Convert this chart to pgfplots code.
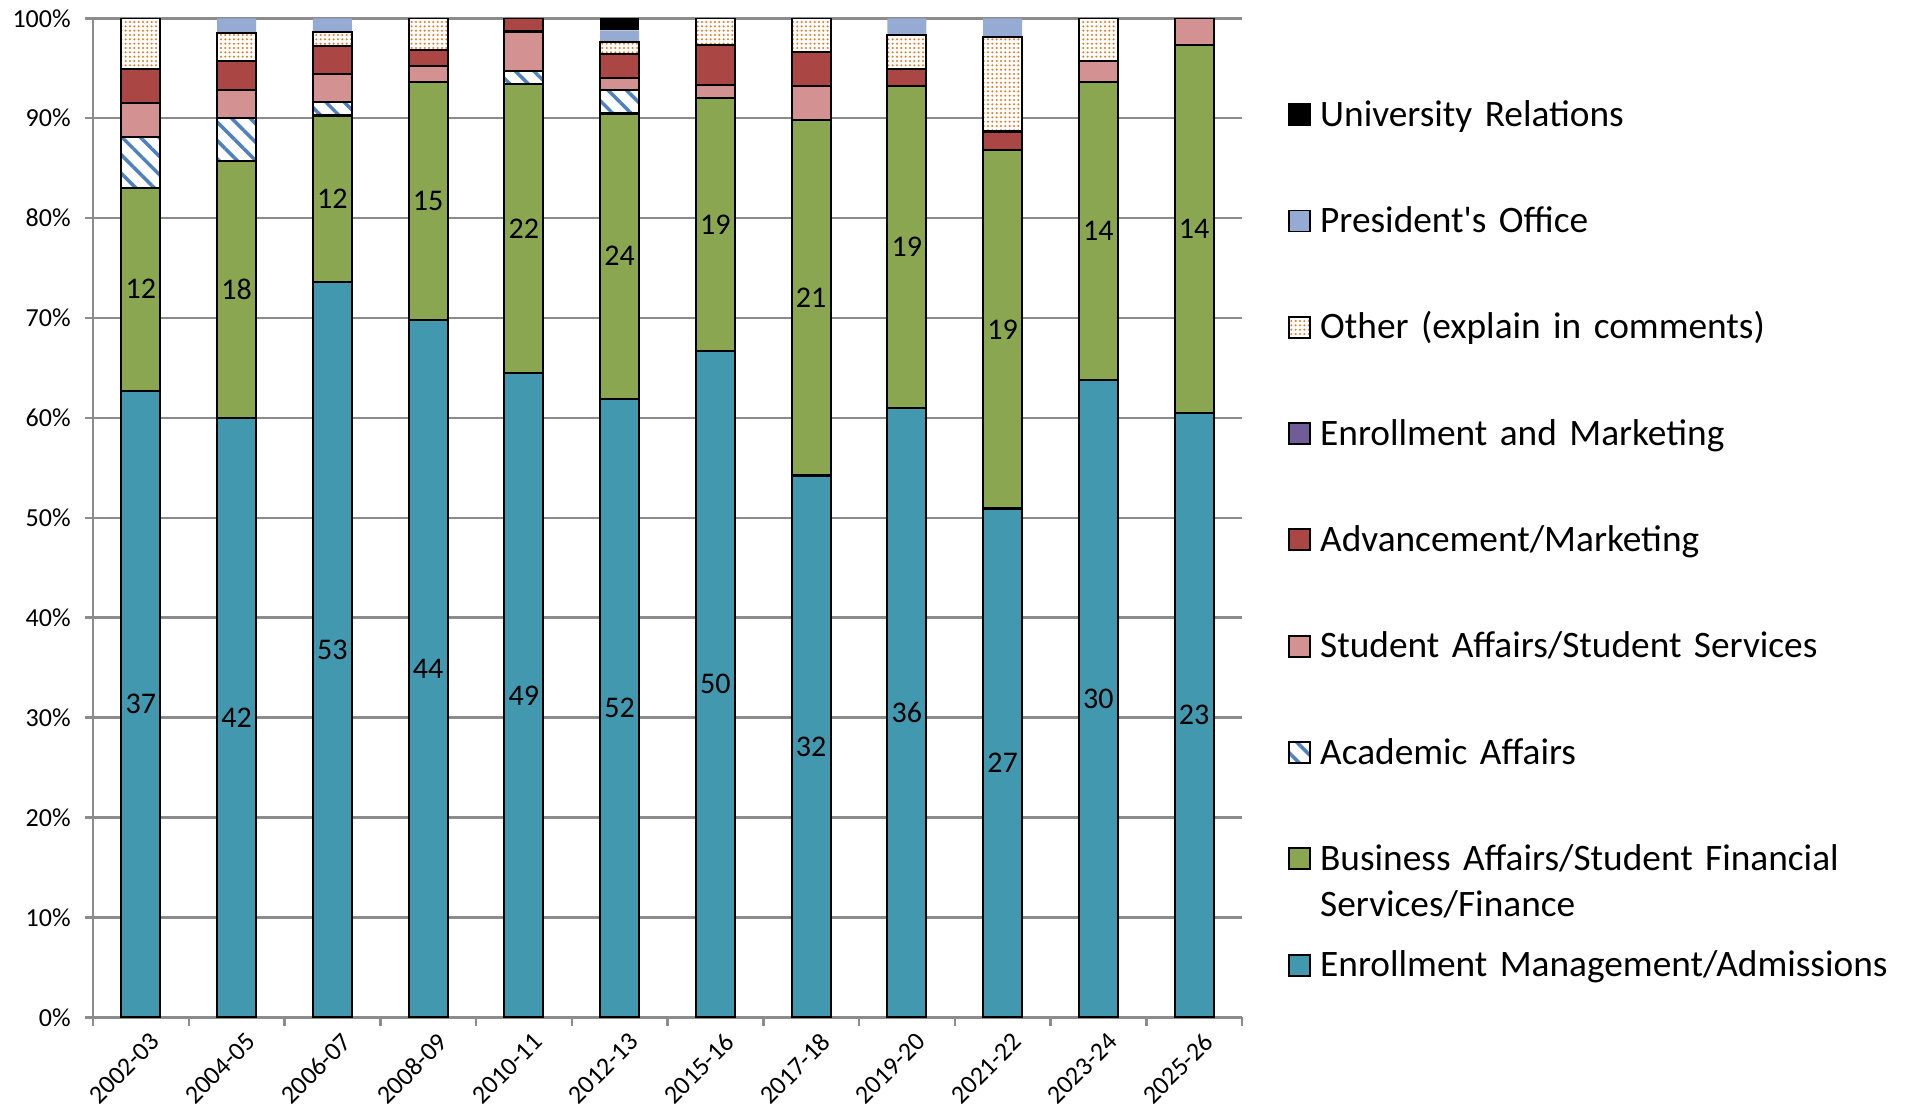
\documentclass[border=0pt]{standalone}
\usepackage{fontspec}
\setmainfont{Carlito}
\usepackage{pgfplots}
\pgfplotsset{compat=1.18}
\usepackage{pgfplotstable}
\usetikzlibrary{patterns.meta}

\definecolor{emteal}{HTML}{4198AF}
\definecolor{bagreen}{HTML}{8AA650}
\definecolor{aablue}{HTML}{4F81BD}
\definecolor{sapink}{HTML}{D39191}
\definecolor{advred}{HTML}{AA4644}
\definecolor{empurple}{HTML}{705C98}
\definecolor{othorange}{HTML}{E8771E}
\definecolor{poblue}{HTML}{95ABD4}
\definecolor{gridgray}{HTML}{8C8C8C}

% Respondents per office for each survey year (tot = all respondents that year)
\pgfplotstableread{
idx year    EM BA AA SA ADV EMK OTH PO UR tot
0   2002-03 37 12 3  2  2   0   3   0  0  59
1   2004-05 42 18 3  2  2   0   2   1  0  70
2   2006-07 53 12 1  2  2   0   1   1  0  72
3   2008-09 44 15 0  1  1   0   2   0  0  63
4   2010-11 49 22 1  3  1   0   0   0  0  76
5   2012-13 52 24 2  1  2   0   1   1  1  84
6   2015-16 50 19 0  1  3   0   2   0  0  75
7   2017-18 32 21 0  2  2   0   2   0  0  59
8   2019-20 36 19 0  0  1   0   2   1  0  59
9   2021-22 27 19 0  0  1   0   5   1  0  53
10  2023-24 30 14 0  1  0   0   2   0  0  47
11  2025-26 23 14 0  1  0   0   0   0  0  38
}\counts

\pgfplotsset{
  /pgf/number format/assume math mode=true,
  sq/.style={legend image code/.code={\draw[##1] (0pt,0.3pt) rectangle (6.3pt,6.6pt);}},
  segment/.style={draw=black, line width=0.65pt, sq},
}

\begin{document}
\begin{tikzpicture}
\begin{axis}[
  name=ax,
  scale only axis, width=344.7pt, height=299.7pt,
  ybar stacked, bar width=11.7pt,
  xmin=-0.5, xmax=11.5, ymin=0, ymax=100,
  axis lines*=left,
  axis line style={gridgray, line width=0.75pt},
  ymajorgrids, grid style={gridgray, line width=0.75pt},
  ytick={0,10,...,100},
  yticklabels={0\%,10\%,20\%,30\%,40\%,50\%,60\%,70\%,80\%,90\%,100\%},
  xtick={-0.5,0.5,...,11.5}, x tick label as interval,
  xticklabels={2002-03,2004-05,2006-07,2008-09,2010-11,2012-13,2015-16,2017-18,2019-20,2021-22,2023-24,2025-26},
  tick align=outside, major tick length=2.5pt,
  tick style={gridgray, line width=0.75pt},
  tick label style={font=\fontsize{7.8}{9}\selectfont},
  xticklabel style={inner sep=0pt, anchor=north east, xshift=2.5pt, yshift=-1.5pt, rotate=45},
  yticklabel style={inner sep=0pt, anchor=east, xshift=-4pt},
  reverse legend,
  legend style={
    at={(rel axis cs:1,1)}, anchor=north west, xshift=13.8pt, yshift=-24.3pt,
    draw=none, fill=none, inner sep=0pt, outer sep=0pt,
    row sep=20.9pt, column sep=2.7pt,
    font=\fontsize{11.2}{13.7}\selectfont,
    nodes={inner sep=0pt, outer sep=0pt, text height=8pt, text depth=3pt,
           text width=175pt, align=left},
    cells={anchor=base west},
  },
]
\addplot[segment, fill=emteal] table[x=idx, y expr=\thisrow{EM}/\thisrow{tot}*100]{\counts};
\addlegendentry{Enrollment Management/Admissions}
\addplot[segment, fill=bagreen] table[x=idx, y expr=\thisrow{BA}/\thisrow{tot}*100]{\counts};
\addlegendentry{Business Affairs/Student Financial\\Services/Finance}
\addplot[segment, fill=white,
  postaction={pattern={Lines[angle=-45, distance=3.9pt, line width=1.05pt]}, pattern color=aablue}]
  table[x=idx, y expr=\thisrow{AA}/\thisrow{tot}*100]{\counts};
\addlegendentry{Academic Affairs}
\addplot[segment, fill=sapink] table[x=idx, y expr=\thisrow{SA}/\thisrow{tot}*100]{\counts};
\addlegendentry{Student Affairs/Student Services}
\addplot[segment, fill=advred] table[x=idx, y expr=\thisrow{ADV}/\thisrow{tot}*100]{\counts};
\addlegendentry{Advancement/Marketing}
\addplot[sq, draw=none, fill=empurple] table[x=idx, y expr=\thisrow{EMK}/\thisrow{tot}*100]{\counts};
\addlegendentry{Enrollment and Marketing}
\addplot[segment, fill=white,
  postaction={pattern={Dots[distance=1.3pt, radius=0.33pt]}, pattern color=othorange}]
  table[x=idx, y expr=\thisrow{OTH}/\thisrow{tot}*100]{\counts};
\addlegendentry{Other (explain in comments)}
\addplot[sq, draw=none, fill=poblue] table[x=idx, y expr=\thisrow{PO}/\thisrow{tot}*100]{\counts};
\addlegendentry{President\textquotesingle s Office}
\addplot[sq, draw=none, fill=black] table[x=idx, y expr=\thisrow{UR}/\thisrow{tot}*100]{\counts};
\addlegendentry{University Relations}
\end{axis}

% count labels centred in the two lowest segments
\begin{axis}[
  scale only axis, width=344.7pt, height=299.7pt,
  xmin=-0.5, xmax=11.5, ymin=0, ymax=100, hide axis,
  point meta=explicit,
  nodes near coords={\pgfmathprintnumber{\pgfplotspointmeta}},
  nodes near coords align=center,
  every node near coord/.append style={font=\fontsize{9}{10.8}\selectfont, inner sep=0pt, anchor=center},
]
\addplot[draw=none, mark=none, nodes near coords]
  table[x=idx, y expr=\thisrow{EM}/2/\thisrow{tot}*100, meta=EM]{\counts};
\addplot[draw=none, mark=none, nodes near coords]
  table[x=idx, y expr=(\thisrow{EM}+\thisrow{BA}/2)/\thisrow{tot}*100, meta=BA]{\counts};
\end{axis}

\pgfresetboundingbox
\path[use as bounding box] ([shift={(-27.9pt,-30.3pt)}]ax.south west) rectangle ([shift={(199.8pt,5.5pt)}]ax.north east);
\end{tikzpicture}
\end{document}
